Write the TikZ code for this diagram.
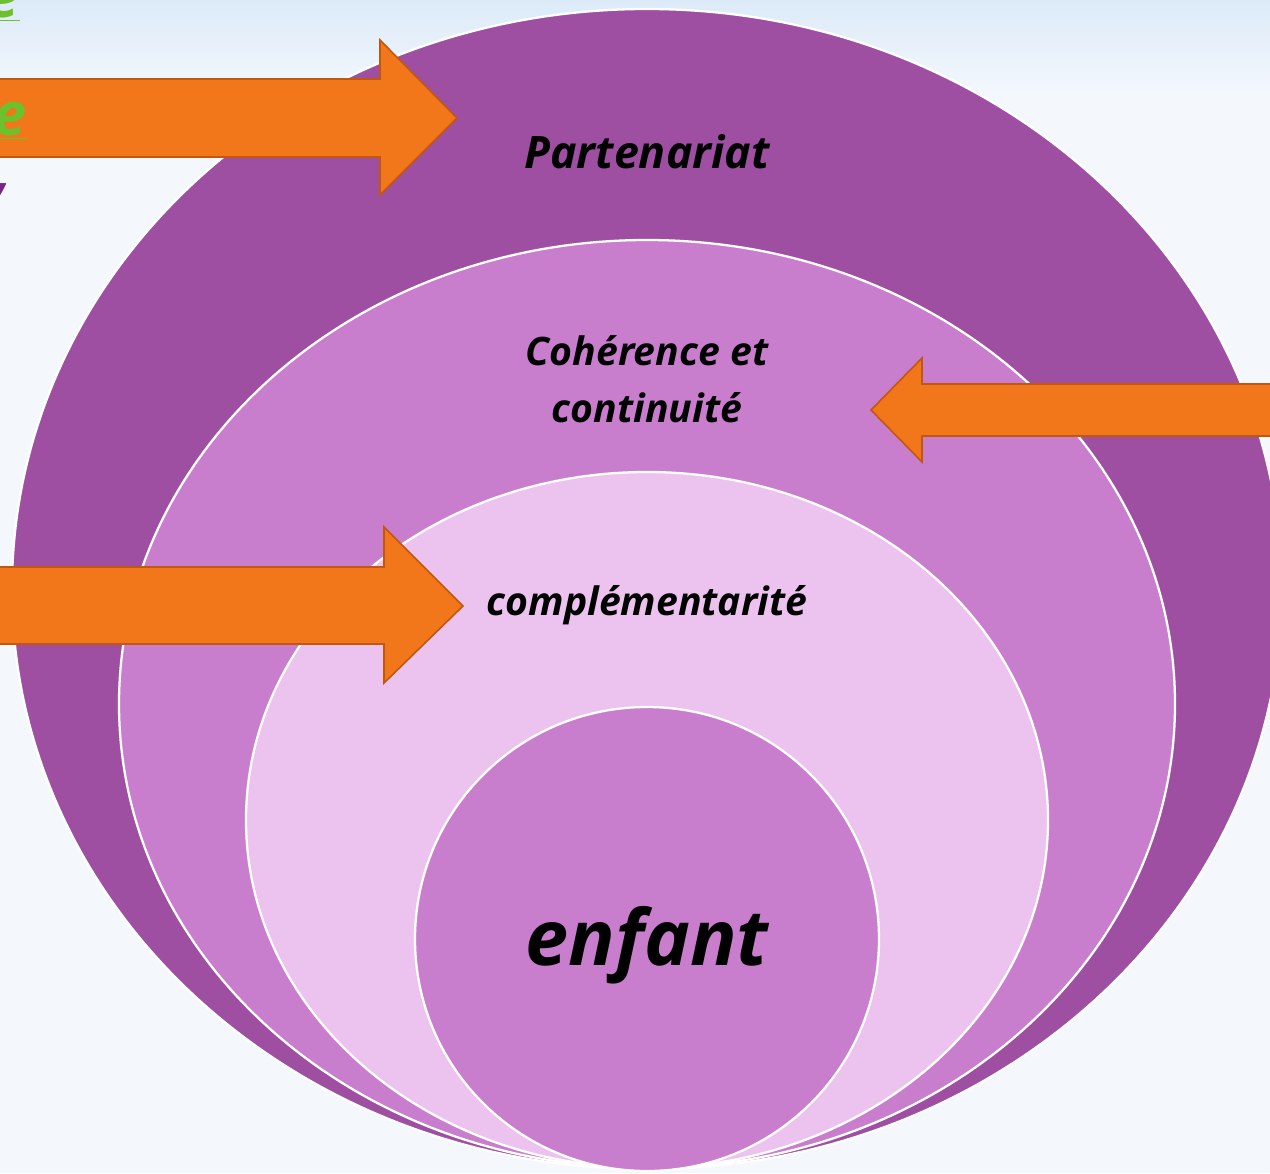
\documentclass[tikz,border=0pt]{standalone}
\usepackage{fontspec}
\setmainfont{Open Sans}
\usepackage{xcolor}
\usepackage{tikz}
\definecolor{bgpale}{HTML}{F4F8FD}
\definecolor{skyblue}{HTML}{DCEAF8}
\definecolor{plumdark}{HTML}{9E4FA2}
\definecolor{plummid}{HTML}{C97ECD}
\definecolor{plumlight}{HTML}{ECC3EE}
\definecolor{arroworange}{HTML}{F2761A}
\definecolor{arrowedge}{HTML}{C2570F}
\definecolor{leafgreen}{HTML}{6DC12C}
\definecolor{grape}{HTML}{7B2486}
\tikzstyle {ring} = [draw=white, line width=1.3pt]
\tikzset{fat arrow/.style = {fill=arroworange, draw=arrowedge, line width=0.9pt, line join=miter}}
\tikzset{label text/.style = {text=black, align=center, inner sep=0pt,
            font=\bfseries\itshape\fontsize{22.3}{32}\selectfont}}
\tikzset{fragment/.style = {anchor=base east, inner sep=0pt,
            font=\bfseries\itshape\fontsize{34}{40}\selectfont}}

\begin{document}
\begin{tikzpicture}[x=0.02cm, y=-0.02cm]
            \useasboundingbox (0,0) rectangle (1270,1173);
            \clip (0,0) rectangle (1270,1173);
            \fill[bgpale] (0,0) rectangle (1270,1173);
            \shade[top color=skyblue, bottom color=bgpale] (0,0) rectangle (1270,95);
            % nested rings
            \draw[ring, fill=plumdark] (647,589) ellipse [x radius=635, y radius=580];
            \draw[ring, fill=plummid] (647,704) ellipse [x radius=528, y radius=464];
            \draw[ring, fill=plumlight] (647,820) ellipse [x radius=401, y radius=348];
            \draw[ring, fill=plummid] (647,939) circle [radius=232];
            % arrows
            \draw[fat arrow] (-10,79) -- (380,79) -- (380,40) -- (457,118) -- (380,195) -- (380,157) -- (-10,157) -- cycle;
            \draw[fat arrow] (1280,384) -- (922,384) -- (922,358) -- (871,410) -- (922,462) -- (922,436) -- (1280,436) -- cycle;
            \draw[fat arrow] (-10,567) -- (384,567) -- (384,527) -- (463,606) -- (384,683) -- (384,644) -- (-10,644) -- cycle;
            % labels
            \node[label text, anchor=base, font=\bfseries\itshape\fontsize{25.5}{32}\selectfont] (partenariat) at (647,168) {Partenariat};
            \node[label text, anchor=base] (coherence) at (647,365) {Cohérence et};
            \node[label text, anchor=base] (continuite) at (647,422) {continuité};
            \node[label text, anchor=base] (complement) at (647,615) {complémentarité};
            \node[label text, anchor=base, font=\bfseries\itshape\fontsize{44}{52}\selectfont] (enfant) at (647,965) {enfant};
            % cut-off words at the left edge
            \node[fragment, text=leafgreen] (frag top) at (20,17) {\underline{e}};
            \node[fragment, text=leafgreen] (frag mid) at (27,135) {\underline{re}};
            \node[fragment, text=grape] (frag low) at (12,190) {,};
        \end{tikzpicture}
\end{document}
